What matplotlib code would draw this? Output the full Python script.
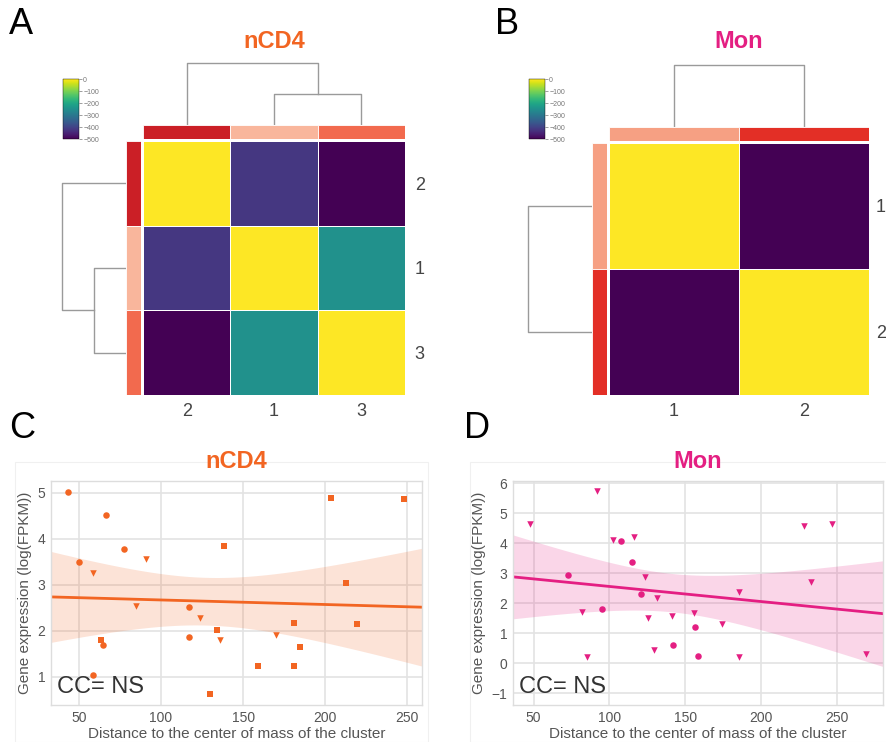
import numpy as np
import matplotlib
matplotlib.use("Agg")
import matplotlib.pyplot as plt
from matplotlib.patches import Rectangle

plt.rcParams['font.family'] = ['Liberation Sans', 'DejaVu Sans']

# ---- heatmap data ----
ncd4_labels = ['2', '1', '3']
ncd4_matrix = [[0, -420, -500],
               [-420, 0, -250],
               [-500, -250, 0]]
ncd4_links = [(1, 2, 0.5), (0, 3, 1.0)]
ncd4_colors = ['#cb1f26', '#f9b69c', '#f26a4e']

mon_labels = ['1', '2']
mon_matrix = [[0, -500],
              [-500, 0]]
mon_links = [(0, 1, 1.0)]
mon_colors = ['#f6a083', '#e32f26']

cbar_ticks = [0, -100, -200, -300, -400, -500]

# ---- scatter data ----
ncd4_circle_x = [43.3, 66.3, 77.6, 50.0, 116.9, 116.9, 64.8, 58.7]
ncd4_circle_y = [5.03, 4.51, 3.78, 3.49, 2.52, 1.86, 1.68, 1.04]
ncd4_tri_x = [91.0, 58.5, 85.0, 123.8, 136.2, 170.0]
ncd4_tri_y = [3.56, 3.25, 2.55, 2.28, 1.80, 1.91]
ncd4_sq_x = [63.4, 203.3, 248.0, 138.6, 212.4, 134.3, 181.1, 219.1, 184.8, 159.1, 181.1, 129.7]
ncd4_sq_y = [1.81, 4.88, 4.86, 3.85, 3.04, 2.02, 2.16, 2.14, 1.64, 1.23, 1.23, 0.62]

mon_tri_x = [47.6, 92.1, 102.0, 116.0, 123.7, 131.4, 81.8, 125.4, 141.4, 155.9,
             174.3, 185.3, 129.6, 85.1, 185.1, 227.9, 246.9, 232.7, 268.9]
mon_tri_y = [4.66, 5.74, 4.10, 4.20, 2.86, 2.18, 1.71, 1.49, 1.58, 1.68,
             1.32, 2.37, 0.43, 0.19, 0.19, 4.57, 4.63, 2.70, 0.30]
mon_circle_x = [72.4, 95.2, 107.9, 115.1, 120.8, 141.7, 156.1, 158.6]
mon_circle_y = [2.94, 1.79, 4.09, 3.37, 2.31, 0.59, 1.21, 0.23]

orange = '#f26522'
magenta = '#e41f82'

W, H = 887, 742
fig = plt.figure(figsize=(W / 100, H / 100), dpi=100)


def px_axes(l, t, r, b):
    return fig.add_axes([l / W, 1 - b / H, (r - l) / W, (b - t) / H])


def dendro(ax, n, links, orient):
    # leaf positions and heights, scipy-like
    pos = [i + 0.5 for i in range(n)]
    hts = [0.0] * n
    for a, b, h in links:
        xa, xb = pos[a], pos[b]
        xs = [xa, xa, xb, xb]
        ys = [hts[a], h, h, hts[b]]
        if orient == 'top':
            ax.plot(xs, ys, color='#9a9a9a', lw=1)
        else:
            ax.plot(ys, xs, color='#9a9a9a', lw=1)
        pos.append((xa + xb) / 2)
        hts.append(h)
    top = max(hts) * 1.02
    if orient == 'top':
        ax.set_xlim(0, n)
        ax.set_ylim(0, top)
    else:
        ax.set_ylim(n, 0)
        ax.set_xlim(top, 0)
    ax.axis('off')


def clustermap(box, labels, matrix, links, colors, title, tcol, cb_box, lpad):
    l, t, r, b = box
    n = len(labels)
    ax = px_axes(l, t, r, b)
    mat = np.array(matrix, dtype=float)
    mesh = ax.pcolormesh(mat, cmap='viridis', vmin=-500, vmax=0,
                         edgecolors='white', linewidth=0.6)
    ax.set_ylim(n, 0)
    ax.set_xlim(0, n)
    ax.set_xticks(np.arange(n) + 0.5)
    ax.set_xticklabels(labels, fontsize=13, color='#444444')
    ax.set_yticks(np.arange(n) + 0.5)
    ax.set_yticklabels(labels, fontsize=13, color='#444444')
    ax.yaxis.tick_right()
    ax.tick_params(axis='x', length=0, pad=6)
    ax.tick_params(axis='y', length=0, pad=lpad)
    for s in ax.spines.values():
        s.set_visible(False)

    # colour strips
    cax_top = px_axes(l, t - 16, r, t - 2)
    cax_left = px_axes(l - 17, t, l - 2, b)
    for i, c in enumerate(colors):
        cax_top.add_patch(Rectangle((i, 0), 1, 1, facecolor=c, edgecolor='white', lw=0.6))
        cax_left.add_patch(Rectangle((0, i), 1, 1, facecolor=c, edgecolor='white', lw=0.6))
    cax_top.set_xlim(0, n); cax_top.set_ylim(0, 1); cax_top.axis('off')
    cax_left.set_xlim(0, 1); cax_left.set_ylim(n, 0); cax_left.axis('off')

    # dendrograms
    dendro(px_axes(l, t - 79, r, t - 16), n, links, 'top')
    dendro(px_axes(l - 82, t, l - 17, b), n, links, 'left')

    cb = fig.colorbar(mesh, cax=px_axes(*cb_box), ticks=cbar_ticks)
    cb.ax.tick_params(labelsize=5, length=2, width=0.5, colors='#777777', pad=1)
    cb.outline.set_linewidth(0.3)

    fig.text((l + r) / 2 / W, 1 - 42 / H, title, color=tcol, fontsize=17,
             fontweight='bold', ha='center', va='center')


clustermap((143, 141, 405, 395), ncd4_labels, ncd4_matrix, ncd4_links,
           ncd4_colors, 'nCD4', orange, (63, 79, 79, 139), 7)
clustermap((609, 143, 869, 395), mon_labels, mon_matrix, mon_links,
           mon_colors, 'Mon', magenta, (529, 79, 545, 139), 5)


def regpanel(box, groups, col, xlim, ylim, yticks, title):
    ax = px_axes(*box)
    ax.set_facecolor('white')
    xs_all, ys_all = [], []
    for gx, gy, mk, sz in groups:
        ax.scatter(gx, gy, marker=mk, s=sz, color=col, zorder=3, linewidths=0)
        xs_all += gx
        ys_all += gy
    x = np.array(xs_all); y = np.array(ys_all)
    slope, icpt = np.polyfit(x, y, 1)
    grid = np.linspace(xlim[0], xlim[1], 200)
    fit = icpt + slope * grid
    res = y - (icpt + slope * x)
    nn = len(x)
    s = np.sqrt(np.sum(res ** 2) / (nn - 2))
    se = s * np.sqrt(1 / nn + (grid - x.mean()) ** 2 / np.sum((x - x.mean()) ** 2))
    ax.fill_between(grid, fit - 2.05 * se, fit + 2.05 * se, color=col, alpha=0.18,
                    linewidth=0, zorder=1)
    ax.plot(grid, fit, color=col, lw=2, zorder=2)
    ax.set_xlim(*xlim)
    ax.set_ylim(*ylim)
    ax.set_xticks([50, 100, 150, 200, 250])
    ax.set_yticks(yticks)
    ax.grid(True, color='#e3e3e3', lw=1.2, zorder=0)
    ax.set_axisbelow(True)
    for sp in ax.spines.values():
        sp.set_color('#dddddd')
        sp.set_linewidth(1)
    ax.tick_params(length=0, labelsize=10, colors='#555555', pad=4)
    ax.set_xlabel('Distance to the center of mass of the cluster', fontsize=11,
                  color='#555555', labelpad=2)
    ax.set_ylabel('Gene expression (log(FPKM))', fontsize=11, color='#555555',
                  labelpad=4)
    ax.text(0.015, 0.03, 'CC= NS', transform=ax.transAxes, fontsize=17,
            color='#333333', ha='left', va='bottom')
    l, t, r, b = box
    fig.text((l + r) / 2 / W, 1 - (t - 19) / H, title, color=col, fontsize=17,
             fontweight='bold', ha='center', va='center')


regpanel((51, 481, 422, 705),
         [(ncd4_circle_x, ncd4_circle_y, 'o', 22),
          (ncd4_tri_x, ncd4_tri_y, 'v', 22),
          (ncd4_sq_x, ncd4_sq_y, 's', 20)],
         orange, (33, 259), (0.385, 5.26), [1, 2, 3, 4, 5], 'nCD4')
regpanel((513, 481, 883, 705),
         [(mon_tri_x, mon_tri_y, 'v', 22),
          (mon_circle_x, mon_circle_y, 'o', 22)],
         magenta, (36.4, 280.3), (-1.4, 6.08), [-1, 0, 1, 2, 3, 4, 5, 6], 'Mon')

# faint outer frames of the lower panels
for fl, fr in [(15, 428), (470, 887)]:
    fig.add_artist(Rectangle((fl / W, 0), (fr - fl) / W, 1 - 462 / H,
                             transform=fig.transFigure, fill=False,
                             edgecolor='#f0f0f0', lw=0.8))

for letter, lx, ly in [('A', 21, 25), ('B', 507, 25), ('C', 22, 429), ('D', 477, 429)]:
    fig.text(lx / W, 1 - ly / H, letter, fontsize=26, ha='center', va='center',
             color='black')

fig.savefig('out.png', dpi=100)
